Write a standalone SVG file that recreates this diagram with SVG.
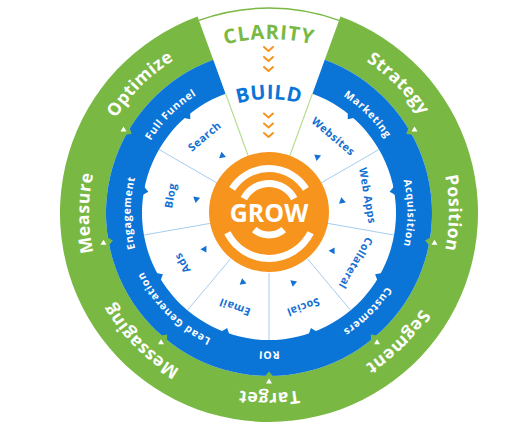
<svg xmlns="http://www.w3.org/2000/svg" width="525" height="425" viewBox="0 0 525 425">
<style>
.g{fill:#79b943}
.b{fill:#0b75d7}
.gl{fill:#fff;font-family:"Open Sans","Liberation Sans",sans-serif;font-weight:700;font-size:17.5px;letter-spacing:0.5px}
.bl{fill:#fff;font-family:"Open Sans","Liberation Sans",sans-serif;font-weight:700;font-size:10.5px;letter-spacing:0.7px}
.il{fill:#1470d2;font-family:"Open Sans","Liberation Sans",sans-serif;font-weight:700;font-size:10.8px;letter-spacing:0.5px}
.dv{stroke:#a6cdf0;stroke-width:1}
.wl{stroke:#b4dc8c;stroke-width:1.2}
.chev{fill:none;stroke:#f7941d;stroke-width:2;stroke-linecap:round;stroke-linejoin:round}
.arc{fill:none;stroke:#fff;stroke-width:7}
.wt{fill:#fff}
.bt{fill:#1470d2}
</style>
<defs>
<path id="pg" d="M153.30,75.11 A180,180 0 0 1 384.70,75.11"/>
<path id="pb" d="M179.97,106.90 A138.5,138.5 0 0 1 358.03,106.90"/>
<path id="pc" d="M182,62.31 A174,174 0 0 1 356,62.31"/>
<path id="pu" d="M212.5,114.14 A114,114 0 0 1 325.5,114.14"/>
<polygon id="bb" points="264.5,85 273.5,85 269,90.5"/>
<polygon id="gb" points="264.5,49 273.5,49 269,54.5"/>
<polygon id="st" points="272,135.5 272,142.5 266,139"/>
</defs>
<rect width="525" height="425" fill="#fff"/>

<g id="ring-green">
<path class="g" d="M340.48,16.60 A209,209 0 1 1 197.52,16.60 L213.25,59.83 A163,163 0 1 0 324.75,59.83 Z"/>
<path d="M198.89,20.36 A205,205 0 0 1 339.11,20.36" fill="none" stroke="#79b943" stroke-width="1.5"/>
</g>
<g id="ring-blue">
<path class="b" d="M324.75,59.83 A163,163 0 1 1 213.25,59.83 L225.56,93.66 A127,127 0 1 0 312.44,93.66 Z"/>
<g class="b">
<use href="#bb" transform="rotate(40 269 213)"/>
<use href="#bb" transform="rotate(80 269 213)"/>
<use href="#bb" transform="rotate(120 269 213)"/>
<use href="#bb" transform="rotate(160 269 213)"/>
<use href="#bb" transform="rotate(200 269 213)"/>
<use href="#bb" transform="rotate(240 269 213)"/>
<use href="#bb" transform="rotate(280 269 213)"/>
<use href="#bb" transform="rotate(320 269 213)"/>
</g>
<g class="g">
<use href="#gb" transform="rotate(60 269 213)"/>
<use href="#gb" transform="rotate(100 269 213)"/>
<use href="#gb" transform="rotate(140 269 213)"/>
<use href="#gb" transform="rotate(180 269 213)"/>
<use href="#gb" transform="rotate(220 269 213)"/>
<use href="#gb" transform="rotate(260 269 213)"/>
<use href="#gb" transform="rotate(300 269 213)"/>
</g>
</g>

<g id="connectors">
<line class="wl" x1="289.52" y1="156.62" x2="312.44" y2="93.66"/>
<line class="wl" x1="248.48" y1="156.62" x2="225.56" y2="93.66"/>
<line class="dv" x1="320.96" y1="183" x2="378.99" y2="149.5"/>
<line class="dv" x1="328.09" y1="223.42" x2="394.07" y2="235.05"/>
<line class="dv" x1="307.57" y1="258.96" x2="350.63" y2="310.29"/>
<line class="dv" x1="269" y1="273" x2="269" y2="340"/>
<line class="dv" x1="230.43" y1="258.96" x2="187.37" y2="310.29"/>
<line class="dv" x1="209.91" y1="223.42" x2="143.93" y2="235.05"/>
<line class="dv" x1="217.04" y1="183" x2="159.01" y2="149.5"/>
<g class="wt">
<polygon points="411.5,131.5 417.5,131.5 414.5,126.5"/>
<polygon points="431.5,244.7 437.5,244.7 434.5,239.7"/>
<polygon points="374,344.2 380,344.2 377,339.2"/>
<polygon points="266,383.5 272,383.5 269,378.5"/>
<polygon points="158,344.2 164,344.2 161,339.2"/>
<polygon points="100.5,244.7 106.5,244.7 103.5,239.7"/>
<polygon points="120.5,131.5 126.5,131.5 123.5,126.5"/>
</g>
<g class="bt">
<use href="#st" transform="rotate(40 269 213)"/>
<use href="#st" transform="rotate(80 269 213)"/>
<use href="#st" transform="rotate(120 269 213)"/>
<use href="#st" transform="rotate(160 269 213)"/>
<use href="#st" transform="rotate(200 269 213)"/>
<use href="#st" transform="rotate(240 269 213)"/>
<use href="#st" transform="rotate(280 269 213)"/>
<use href="#st" transform="rotate(320 269 213)"/>
</g>
<g class="chev">
<polyline points="264,47 268.5,51 273,47"/>
<polyline points="264,57 268.5,61 273,57"/>
<polyline points="264,67 268.5,71 273,67"/>
<polyline points="264,113.5 268.5,117.5 273,113.5"/>
<polyline points="264,123.5 268.5,127.5 273,123.5"/>
<polyline points="264,133 268.5,137 273,133"/>
</g>
</g>

<g id="wedge">
<text font-family="Open Sans, Liberation Sans, sans-serif" font-weight="700" font-size="20" letter-spacing="1" fill="#79b943" text-anchor="middle"><textPath href="#pc" startOffset="50%">CLARITY</textPath></text>
<text font-family="Open Sans, Liberation Sans, sans-serif" font-weight="700" font-size="20" letter-spacing="0.5" fill="#0b75d7" text-anchor="middle"><textPath href="#pu" startOffset="50%">BUILD</textPath></text>
</g>

<g id="outer-labels" text-anchor="middle">
<text class="gl" transform="rotate(45 269 213)"><textPath href="#pg" startOffset="50%">Strategy</textPath></text>
<text class="gl" transform="rotate(90 269 213)"><textPath href="#pg" startOffset="50%">Position</textPath></text>
<text class="gl" transform="rotate(135 269 213)"><textPath href="#pg" startOffset="50%">Segment</textPath></text>
<text class="gl" transform="rotate(180 269 213)"><textPath href="#pg" startOffset="50%">Target</textPath></text>
<text class="gl" transform="rotate(225 269 213)"><textPath href="#pg" startOffset="50%">Messaging</textPath></text>
<text class="gl" transform="rotate(270 269 213)"><textPath href="#pg" startOffset="50%">Measure</textPath></text>
<text class="gl" transform="rotate(315 269 213)"><textPath href="#pg" startOffset="50%">Optimize</textPath></text>
</g>

<g id="middle-labels" text-anchor="middle">
<text class="bl" transform="rotate(45 269 213)"><textPath href="#pb" startOffset="50%">Marketing</textPath></text>
<text class="bl" transform="rotate(90 269 213)"><textPath href="#pb" startOffset="50%">Acquisition</textPath></text>
<text class="bl" transform="rotate(135 269 213)"><textPath href="#pb" startOffset="50%">Customers</textPath></text>
<text class="bl" transform="rotate(180 269 213)"><textPath href="#pb" startOffset="50%">ROI</textPath></text>
<text class="bl" transform="rotate(225 269 213)"><textPath href="#pb" startOffset="50%">Lead Generation</textPath></text>
<text class="bl" transform="rotate(270 269 213)"><textPath href="#pb" startOffset="50%">Engagement</textPath></text>
<text class="bl" transform="rotate(315 269 213)"><textPath href="#pb" startOffset="50%">Full Funnel</textPath></text>
</g>

<g id="inner-labels" text-anchor="middle">
<text class="il" transform="rotate(40 269 213)" x="269" y="116.7">Websites</text>
<text class="il" transform="rotate(80 269 213)" x="269" y="116.7">Web Apps</text>
<text class="il" transform="rotate(120 269 213)" x="269" y="116.7">Collateral</text>
<text class="il" transform="rotate(160 269 213)" x="269" y="116.7">Social</text>
<text class="il" transform="rotate(200 269 213)" x="269" y="116.7">Email</text>
<text class="il" transform="rotate(240 269 213)" x="269" y="116.7">Ads</text>
<text class="il" transform="rotate(280 269 213)" x="269" y="116.7">Blog</text>
<text class="il" transform="rotate(320 269 213)" x="269" y="116.7">Search</text>
</g>

<g id="grow">
<circle cx="269" cy="212" r="60" fill="#f7941d"/>
<path class="arc" d="M232.11,188.95 A43.5,43.5 0 0 1 305.89,188.95"/>
<path class="arc" d="M243.84,198.62 A28.5,28.5 0 0 1 294.16,198.62"/>
<path class="arc" d="M283.78,229.62 A23,23 0 0 1 254.22,229.62"/>
<path class="arc" d="M310.6,232.8 A46.5,46.5 0 0 1 227.4,232.8"/>
<text x="269" y="222" text-anchor="middle" font-family="Open Sans, Liberation Sans, sans-serif" font-weight="700" font-size="25" fill="#fff">GROW</text>
</g>
</svg>
